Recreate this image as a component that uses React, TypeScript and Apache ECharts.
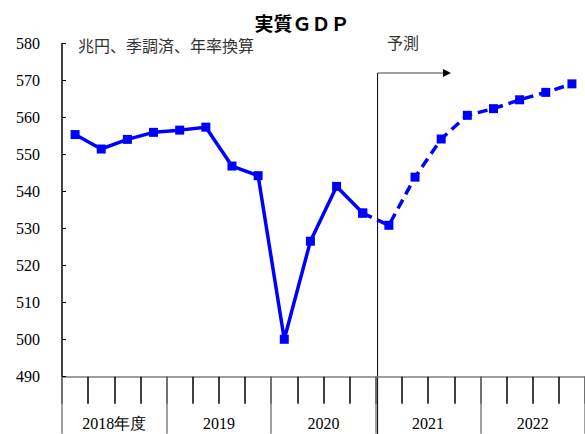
import React, { useEffect, useRef } from "react";
import * as echarts from "echarts";

const quarters = [
  "2018Q1", "2018Q2", "2018Q3", "2018Q4",
  "2019Q1", "2019Q2", "2019Q3", "2019Q4",
  "2020Q1", "2020Q2", "2020Q3", "2020Q4",
  "2021Q1", "2021Q2", "2021Q3", "2021Q4",
  "2022Q1", "2022Q2", "2022Q3", "2022Q4",
];
const years = ["2018年度", "2019", "2020", "2021", "2022"];
const actual = [555.4, 551.5, 554.1, 556.0, 556.6, 557.4, 546.9, 544.3, 500.1, 526.6, 541.4, 534.2];
const forecast = [534.2, 530.9, 543.9, 554.2, 560.6, 562.4, 564.8, 566.8, 569.1];

const serif = "Liberation Serif";
const cjk = "Noto Sans CJK JP";

export default function App() {
  const ref = useRef<HTMLDivElement>(null);
  useEffect(() => {
    if (!ref.current) return;
    const chart = echarts.init(ref.current, null, { renderer: "svg" });
    const solidData = quarters.map((_, i) => (i < actual.length ? actual[i] : null));
    const dashData = quarters.map((_, i) => {
      const k = i - (actual.length - 1);
      return k >= 0 && k < forecast.length ? forecast[k] : null;
    });
    chart.setOption({
      animation: false,
      backgroundColor: "#ffffff",
      grid: { left: 62, top: 43.5, width: 526, bottom: 57.3, containLabel: false },
      title: {
        text: "実質ＧＤＰ",
        left: 297,
        top: 8,
        textAlign: "center",
        textStyle: { fontFamily: cjk, fontSize: 19, fontWeight: "bold", color: "#000" },
      },
      xAxis: [
        {
          type: "category",
          data: quarters,
          boundaryGap: true,
          position: "bottom",
          axisLine: { show: true, lineStyle: { color: "#808080", width: 1.5 } },
          axisTick: { show: true, length: 27, interval: 0, lineStyle: { color: "#000", width: 1.5 } },
          axisLabel: { show: false },
          splitLine: { show: false },
        },
        {
          type: "category",
          data: years,
          boundaryGap: true,
          position: "bottom",
          axisLine: { show: false },
          axisTick: { show: true, length: 57, interval: 0, lineStyle: { color: "#808080", width: 1.5 } },
          axisLabel: {
            show: true,
            interval: 0,
            margin: 39,
            fontFamily: serif,
            fontSize: 16,
            color: "#000",
          },
          splitLine: { show: false },
        },
      ],
      yAxis: {
        type: "value",
        min: 490,
        max: 580,
        interval: 10,
        axisLine: { show: true, lineStyle: { color: "#000", width: 1.5 } },
        axisTick: { show: true, inside: true, length: 4, lineStyle: { color: "#000" } },
        axisLabel: { margin: 22, fontFamily: serif, fontSize: 16, color: "#000" },
        splitLine: { show: false },
      },
      graphic: [
        {
          type: "text",
          left: 78,
          top: 37,
          style: { text: "兆円、季調済、年率換算", fontFamily: cjk, fontSize: 16, fill: "#333" },
        },
        {
          type: "text",
          left: 387,
          top: 34,
          style: { text: "予測", fontFamily: cjk, fontSize: 16, fill: "#333" },
        },
        {
          type: "line",
          shape: { x1: 377.6, y1: 73, x2: 377.6, y2: 434 },
          style: { stroke: "#000", lineWidth: 1 },
        },
        {
          type: "line",
          shape: { x1: 377.6, y1: 73, x2: 444, y2: 73 },
          style: { stroke: "#808080", lineWidth: 1.5 },
        },
        {
          type: "polygon",
          shape: { points: [[443, 69], [451, 73], [443, 77]] },
          style: { fill: "#000" },
        },
      ],
      series: [
        {
          type: "line",
          xAxisIndex: 0,
          data: solidData,
          symbol: "rect",
          symbolSize: 9,
          showSymbol: true,
          lineStyle: { color: "#0000ff", width: 3.5 },
          itemStyle: { color: "#0000ff" },
          z: 3,
        },
        {
          type: "line",
          xAxisIndex: 0,
          data: dashData,
          symbol: "rect",
          symbolSize: 9,
          showSymbol: true,
          lineStyle: { color: "#0000ff", width: 3.5, type: [10, 6] },
          itemStyle: { color: "#0000ff" },
          z: 2,
        },
      ],
    });
    return () => chart.dispose();
  }, []);
  return (
    <div
      ref={ref}
      style={{ position: "absolute", left: 0, top: 0, width: 585, height: 434 }}
    />
  );
}
